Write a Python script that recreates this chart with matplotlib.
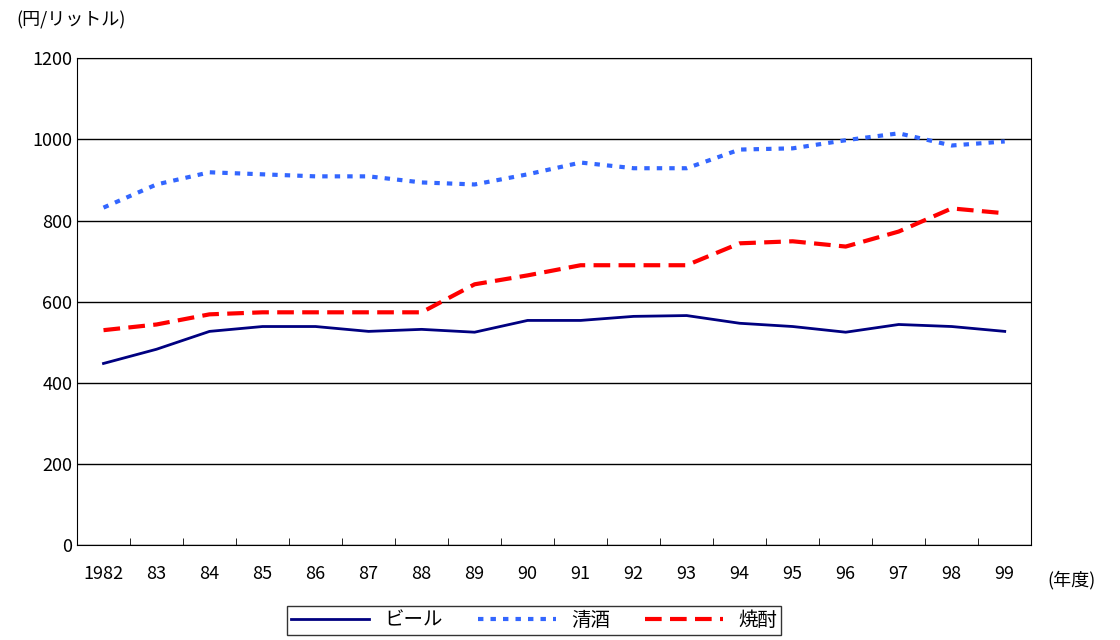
import matplotlib
matplotlib.use("Agg")
import matplotlib.pyplot as plt
import numpy as np

plt.rcParams['font.family'] = ['Noto Sans CJK JP', 'DejaVu Sans']

years = ["1982", "83", "84", "85", "86", "87", "88", "89", "90", "91", "92", "93", "94", "95", "96", "97", "98", "99"]
beer = [448, 483, 527, 539, 539, 527, 532, 525, 554, 554, 564, 566, 547, 539, 525, 544, 539, 527]
sake = [832, 889, 919, 914, 909, 909, 894, 889, 914, 943, 929, 929, 975, 978, 998, 1015, 985, 995]
shochu = [530, 544, 569, 574, 574, 574, 574, 643, 665, 690, 690, 690, 744, 749, 736, 773, 830, 818]

fig = plt.figure(figsize=(11.2, 6.4), dpi=100)
ax = fig.add_axes([0.06875, 0.148, 0.852, 0.761])
x = np.arange(len(years))
ax.plot(x, beer, color='#000080', lw=2, label='ビール')
ax.plot(x, sake, color='#3366ff', lw=3, ls=(0, (1.3, 1.7)), label='清酒')
ax.plot(x, shochu, color='#ff0000', lw=3, ls=(0, (4, 2)), label='焼酎')

ax.set_xlim(-0.5, len(years) - 0.5)
ax.set_ylim(0, 1200)
ax.set_yticks(range(0, 1201, 200))
ax.yaxis.grid(True, color='black', lw=1)
ax.set_axisbelow(True)
ax.set_xticks(x)
ax.set_xticklabels(years)
ax.set_xticks(np.arange(-0.5, len(years), 1), minor=True)
ax.tick_params(axis='x', which='major', length=0, pad=14, labelsize=13)
ax.tick_params(axis='x', which='minor', length=5, direction='in')
ax.tick_params(axis='y', labelsize=13, length=0)
for s in ax.spines.values():
    s.set_color('black')

fig.text(0.015, 0.968, '(円/リットル)', fontsize=13, va='center')
fig.text(0.935, 0.093, '(年度)', fontsize=13, va='center')
leg = fig.legend(loc='center', bbox_to_anchor=(0.477, 0.031), ncol=3, frameon=True,
                 fancybox=False, edgecolor='black', fontsize=14, handlelength=4,
                 borderpad=0.2, columnspacing=1.8)
fig.savefig('out.png', dpi=100)
